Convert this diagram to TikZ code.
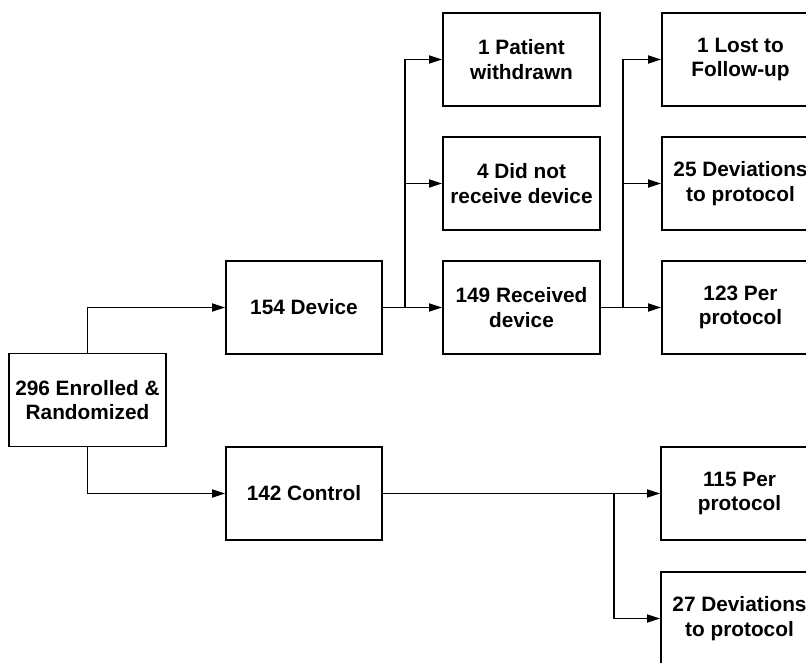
\documentclass[tikz,border=0pt]{standalone}
\usepackage{fontspec}
\setmainfont{Liberation Sans}
\usetikzlibrary{arrows.meta}
\begin{document}
\begin{tikzpicture}[x=1pt,y=-1pt,
  box/.style={draw, line width=1.8pt, minimum width=157pt, minimum height=93pt, inner sep=0pt,
    align=center, font=\fontsize{20.8}{24.5}\selectfont\bfseries},
  conn/.style={line width=1.8pt},
  arr/.style={conn, -{Triangle[length=13pt,width=8pt]}}]
\useasboundingbox (0,0) rectangle (806,662);
\fill[white] (0,0) rectangle (806,662);
\clip (0,0) rectangle (806,662);
% nodes
\node[box] (enr) at (87.5,400) {296 Enrolled \&\\Randomized};
\node[box, minimum width=156pt] (dev) at (304,307.5) {154 Device};
\node[box, minimum width=156pt] (ctl) at (304,493.5) {142 Control};
\node[box] (pw) at (521.5,59.5) {1 Patient\\withdrawn};
\node[box] (dnr) at (521.5,183.5) {4 Did not\\receive device};
\node[box] (rec) at (521.5,307.5) {149 Received\\device};
\node[box] (lost) at (740.5,59.5) {1 Lost to\\Follow-up};
\node[box] (d25) at (740.5,183.5) {25 Deviations\\to protocol};
\node[box] (p123) at (740.5,307.5) {123 Per\\protocol};
\node[box] (p115) at (739.5,493.5) {115 Per\\protocol};
\node[box] (d27) at (739.5,618.5) {27 Deviations\\to protocol};
% branch points
\coordinate (b1) at (405,307.5);
\coordinate (b2) at (623,307.5);
\coordinate (b3) at (614,493.5);
% connectors
\draw[arr] (enr.north) |- (dev.west);
\draw[arr] (enr.south) |- (ctl.west);
\draw[arr] (dev.east) -- (rec.west);
\draw[arr] (b1) |- (pw.west);
\draw[arr] (b1) |- (dnr.west);
\draw[arr] (rec.east) -- (p123.west);
\draw[arr] (b2) |- (lost.west);
\draw[arr] (b2) |- (d25.west);
\draw[arr] (ctl.east) -- (p115.west);
\draw[arr] (b3) |- (d27.west);
\end{tikzpicture}
\end{document}
